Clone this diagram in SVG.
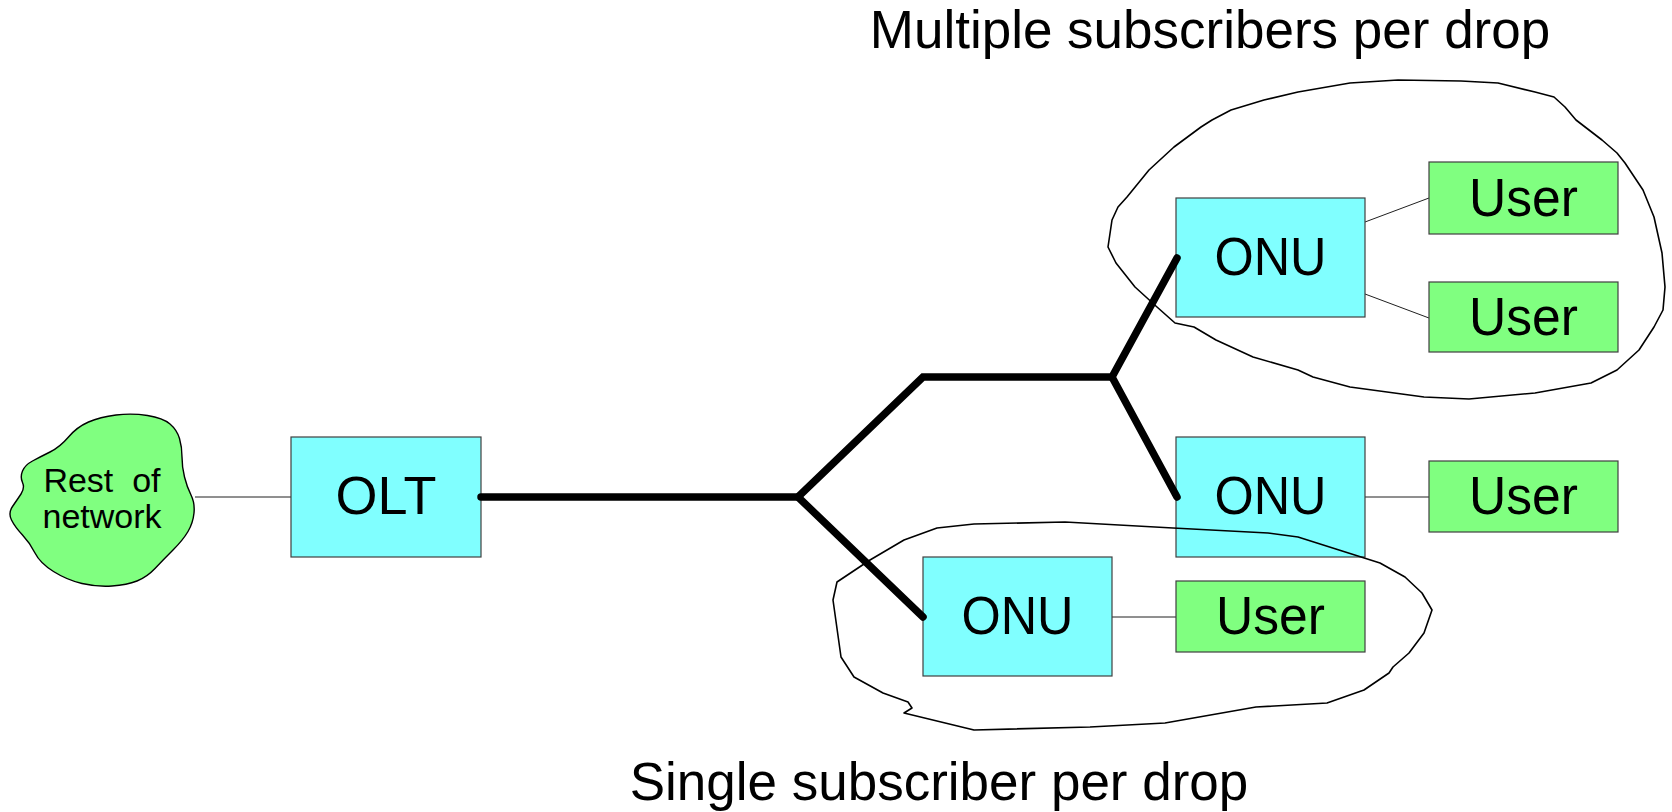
<svg xmlns="http://www.w3.org/2000/svg" width="1672" height="812" viewBox="0 0 1672 812">
<style>
.onu{fill:#80FFFF;stroke:#404040;stroke-width:1.2}
.usr{fill:#80FF80;stroke:#404040;stroke-width:1.2}
.lbl{font-family:"Liberation Sans",Arial,sans-serif;font-size:53px;fill:#000;text-anchor:middle}
.title{font-family:"Liberation Sans",Arial,sans-serif;font-size:53px;fill:#000;text-anchor:middle}
.small{font-family:"Liberation Sans",Arial,sans-serif;font-size:34px;fill:#000;text-anchor:middle}
.thin{stroke:#202020;stroke-width:1;fill:none}
.thick{stroke:#000;stroke-width:7.5;fill:none;stroke-linecap:round;stroke-linejoin:miter}
.outline{stroke:#000;stroke-width:1.6;fill:none;stroke-linejoin:round}
</style>
<rect width="1672" height="812" fill="#fff"/>

<g id="thin-connectors">
<line class="thin" x1="195" y1="497" x2="291" y2="497"/>
<line class="thin" x1="1365" y1="222" x2="1429" y2="198"/>
<line class="thin" x1="1365" y1="294" x2="1429" y2="318"/>
<line class="thin" x1="1365" y1="497" x2="1429" y2="497"/>
<line class="thin" x1="1112" y1="617" x2="1176" y2="617"/>
</g>

<g id="rest-of-network">
<path d="M147.5,415.5 Q163,418 170,424 Q177,430 179.5,438.5 Q182,447 182,457 Q182,467 184.5,477 Q187,487 191,495 Q195,503 194,513 Q193,523 188,531.5 Q183,540 173,550 Q163,560 155,568.5 Q147,577 137,581 Q127,585 112,586 Q97,587 82,583.5 Q67,580 53.5,571.5 Q40,563 35,553 Q30,543 22.5,535 Q15,527 11.5,520 Q8,513 12.5,506.5 Q17,500 21,494 Q25,488 22.5,482.5 Q20,477 22.5,471 Q25,465 32.5,461 Q40,457 50,452 Q60,447 68.5,437 Q77,427 88.5,422 Q100,417 116,415 Q132,413 147.5,415.5 Z" fill="#80FF80" stroke="#000" stroke-width="1.4"/>
<text class="small" x="102" y="492" xml:space="preserve">Rest  of</text>
<text class="small" x="102" y="528">network</text>
</g>

<g id="olt">
<rect class="onu" x="291" y="437" width="190" height="120"/>
<text class="lbl" x="386" y="514" textLength="101" lengthAdjust="spacingAndGlyphs">OLT</text>
</g>

<g id="onu-top">
<rect class="onu" x="1176" y="198" width="189" height="119"/>
<text class="lbl" x="1270.5" y="275" textLength="112" lengthAdjust="spacingAndGlyphs">ONU</text>
</g>
<g id="user-top-1">
<rect class="usr" x="1429" y="162" width="189" height="72"/>
<text class="lbl" x="1523.5" y="216" textLength="109" lengthAdjust="spacingAndGlyphs">User</text>
</g>
<g id="user-top-2">
<rect class="usr" x="1429" y="282" width="189" height="70"/>
<text class="lbl" x="1523.5" y="335" textLength="109" lengthAdjust="spacingAndGlyphs">User</text>
</g>

<g id="onu-mid">
<rect class="onu" x="1176" y="437" width="189" height="120"/>
<text class="lbl" x="1270.5" y="514" textLength="112" lengthAdjust="spacingAndGlyphs">ONU</text>
</g>
<g id="user-mid">
<rect class="usr" x="1429" y="461" width="189" height="71"/>
<text class="lbl" x="1523.5" y="514" textLength="109" lengthAdjust="spacingAndGlyphs">User</text>
</g>

<g id="onu-bottom">
<rect class="onu" x="923" y="557" width="189" height="119"/>
<text class="lbl" x="1017.5" y="634" textLength="112" lengthAdjust="spacingAndGlyphs">ONU</text>
</g>
<g id="user-bottom">
<rect class="usr" x="1176" y="581" width="189" height="71"/>
<text class="lbl" x="1270.5" y="634" textLength="109" lengthAdjust="spacingAndGlyphs">User</text>
</g>

<g id="group-multiple">
<path class="outline" d="M1108,247 L1112,220 L1118,207 L1127,197 L1149,170 L1174,147 L1201,127 L1212,120 L1231,110 L1264,100 L1298,92 L1350,83 L1398,80 L1461,81 L1498,83 L1535,92 L1554,97 L1565,107 L1576,120 L1602,140 L1617,153 L1625,163 L1643,190 L1654,217 L1662,253 L1665,287 L1663,310 L1654,327 L1639,350 L1617,370 L1591,383 L1535,393 L1469,399 L1424,397 L1350,387 L1313,377 L1298,370 L1253,357 L1216,340 L1194,327 L1175,323 L1157,307 L1135,287 L1116,263 Z"/>
<text class="title" x="1210" y="48">Multiple subscribers per drop</text>
</g>

<g id="group-single">
<path class="outline" d="M837,582 L870,560 L904,540 L937,528 L974,524 L1065,522 L1173,528 L1268,533 L1298,537 L1339,550 L1380,563 L1405,577 L1422,593 L1432,610 L1424,633 L1409,653 L1393,667 L1389,673 L1364,690 L1327,703 L1256,707 L1165,723 L1090,727 L974,730 L904,713 L912,708 L908,702 L883,693 L854,677 L841,657 L833,600 Z"/>
<text class="title" x="939" y="800">Single subscriber per drop</text>
</g>

<g id="fiber-connectors">
<path class="thick" d="M481,497 L798,497 L923,377 L1112,377 L1177,258"/>
<path class="thick" d="M1112,377 L1177,497"/>
<path class="thick" d="M798,497 L923,617"/>
</g>
</svg>
